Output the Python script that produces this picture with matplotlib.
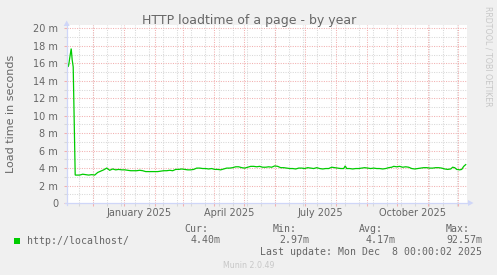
import matplotlib
matplotlib.use('Agg')
import matplotlib.pyplot as plt
from matplotlib.patches import Rectangle, Polygon
from matplotlib.lines import Line2D
import datetime as dt

W, H = 497, 275

# ---------------- data ----------------
start = dt.datetime(2024, 11, 4, 10)   # left edge of the graph
span_days = 400                         # Munin "by year" graph = 400 days

# day offsets from the left edge and load time (milliseconds)
days = [0, 1, 2, 3, 4.5, 5.5, 6.5, 8.5,
        10, 13, 16, 19, 22, 25, 28, 31, 34, 37, 40, 43, 46, 49, 52, 55, 58,
        61, 64, 67, 70, 73, 76, 79, 82, 85, 88, 91, 94, 97, 100, 103, 106,
        109, 112, 115, 118, 121, 124, 127, 130, 133, 136, 139, 142, 145, 148,
        151, 154, 157, 160, 163, 166, 169, 172, 175, 178, 181, 184, 187, 190,
        193, 196, 199, 202, 205, 208, 211, 214, 217, 220, 223, 226, 229, 232,
        235, 238, 241, 244, 247, 250, 253, 256, 259, 262, 265, 268, 271, 274,
        277, 278.5, 280, 283, 286, 289, 292, 295, 298, 301, 304, 307, 310,
        313, 316, 319, 322, 325, 327, 330, 333, 336, 339, 342, 345, 348, 351,
        354, 357, 360, 363, 366, 369, 372, 375, 378, 381, 384, 386, 388, 390,
        393, 395, 397, 399]
load_ms = [17.5, 15.6, 15.8, 16.6, 17.7, 16.4, 15.6, 3.2,
           3.2, 3.2, 3.3, 3.25, 3.2, 3.25, 3.2, 3.5, 3.65, 3.8, 4.0, 3.75, 3.9,
           3.8, 3.85, 3.8, 3.8,
           3.75, 3.7, 3.7, 3.7, 3.75, 3.7, 3.6, 3.6, 3.6, 3.6, 3.6, 3.65, 3.7,
           3.7, 3.75, 3.7,
           3.85, 3.85, 3.9, 3.85, 3.8, 3.8, 3.85, 4.0, 4.0, 3.95, 3.95, 3.9,
           3.95, 3.85,
           3.85, 3.8, 3.9, 4.0, 4.0, 4.05, 4.15, 4.15, 4.05, 4.0, 4.1, 4.2, 4.2,
           4.15,
           4.2, 4.1, 4.1, 4.15, 4.1, 4.25, 4.2, 4.05, 4.05, 4.0, 3.95, 3.95,
           3.9, 4.0,
           4.0, 3.95, 4.05, 4.0, 3.95, 4.05, 3.95, 3.9, 3.95, 3.95, 4.1, 4.05,
           4.0, 3.95,
           3.95, 4.25, 3.95, 3.95, 3.9, 3.95, 3.95, 4.0, 4.05, 4.0, 3.95, 4.0,
           3.95,
           3.95, 3.9, 3.95, 4.05, 4.1, 4.2, 4.15, 4.2, 4.1, 4.15, 4.1, 3.95,
           3.9, 3.95,
           4.0, 4.05, 4.05, 4.0, 4.0, 4.05, 4.05, 4.0, 3.9, 3.85, 3.9, 4.1,
           4.05, 3.85,
           3.8, 3.85, 4.2, 4.4]

month_starts = [dt.datetime(2024, 12, 1), dt.datetime(2025, 1, 1),
                dt.datetime(2025, 2, 1), dt.datetime(2025, 3, 1),
                dt.datetime(2025, 4, 1), dt.datetime(2025, 5, 1),
                dt.datetime(2025, 6, 1), dt.datetime(2025, 7, 1),
                dt.datetime(2025, 8, 1), dt.datetime(2025, 9, 1),
                dt.datetime(2025, 10, 1), dt.datetime(2025, 11, 1),
                dt.datetime(2025, 12, 1)]
minor_anchor = dt.datetime(2024, 11, 17)
minor_step_days = 14
label_dates = [dt.datetime(2025, 1, 16), dt.datetime(2025, 4, 16),
               dt.datetime(2025, 7, 16), dt.datetime(2025, 10, 16)]
label_texts = ['January 2025', 'April 2025', 'July 2025', 'October 2025']
y_major = [0, 2, 4, 6, 8, 10, 12, 14, 16, 18, 20]
y_labels = ['0', '2 m', '4 m', '6 m', '8 m', '10 m', '12 m', '14 m',
            '16 m', '18 m', '20 m']
y_minor = [1, 3, 5, 7, 9, 11, 13, 15, 17, 19]

title = 'HTTP loadtime of a page - by year'
ylabel = 'Load time in seconds'
legend_label = 'http://localhost/'
stats_head = ['Cur:', 'Min:', 'Avg:', 'Max:']
stats_vals = ['4.40m', '2.97m', '4.17m', '92.57m']
last_update = 'Last update: Mon Dec  8 00:00:02 2025'
version_txt = 'Munin 2.0.49'
rrd_txt = 'RRDTOOL / TOBI OETIKER'

# ---------------- style ----------------
BACK = '#F0F0F0'
FONT = '#666666'
AXIS = '#CFD6F8'
GREEN = '#00CC00'
MGRID = '#F2B0B0'
GRID = '#D8D8D8'


def dday(t):
    return (t - start).total_seconds() / 86400.0


def fx(x):
    return x / W


def fy(y):
    return 1 - y / H


fig = plt.figure(figsize=(W / 100, H / 100), dpi=100, facecolor=BACK)

ax_left, ax_right, ax_top, ax_bot = 66.7, 466.7, 25, 203
ax = fig.add_axes([fx(ax_left), fy(ax_bot), (ax_right - ax_left) / W,
                   (ax_bot - ax_top) / H])
ax.set_facecolor('white')
ax.set_xlim(0, span_days)
ax.set_ylim(0, 20 * (ax_bot - ax_top) / (ax_bot - 28.5))
for s in ax.spines.values():
    s.set_visible(False)

dot = (0, (1, 1.3))
minor_days = []
t = minor_anchor
while dday(t) < span_days:
    minor_days.append(dday(t))
    t += dt.timedelta(days=minor_step_days)
major_days = [dday(m) for m in month_starts]

for v in y_minor:
    ax.axhline(v, color=GRID, lw=0.75, ls=dot, zorder=1)
for v in minor_days:
    ax.axvline(v, color=GRID, lw=0.75, ls=dot, zorder=1)
for v in y_major[1:]:
    ax.axhline(v, color=MGRID, lw=0.75, ls=dot, zorder=2)
for v in major_days:
    ax.axvline(v, color=MGRID, lw=0.75, ls=dot, zorder=2)

ax.set_xticks(major_days)
ax.set_xticklabels([])
ax.set_xticks(minor_days, minor=True)
ax.tick_params(axis='x', which='major', length=2.2, width=0.75, color=MGRID,
               direction='out')
ax.tick_params(axis='x', which='minor', length=2.2, width=0.75, color=GRID,
               direction='out')
ax.set_yticks(y_major)
ax.set_yticklabels(y_labels)
ax.set_yticks(y_minor, minor=True)
ax.tick_params(axis='y', which='major', length=2.2, width=0.75, color=MGRID,
               direction='out', pad=3.9, labelsize=7, labelcolor=FONT)
ax.tick_params(axis='y', which='minor', length=2.2, width=0.75, color=GRID,
               direction='out')

ax.plot(days, load_ms, color=GREEN, lw=0.9, zorder=5, solid_joinstyle='miter')

label_tr = matplotlib.transforms.blended_transform_factory(ax.transData,
                                                           fig.transFigure)
for d_, txt in zip(label_dates, label_texts):
    ax.text(dday(d_), fy(215.5), txt, transform=label_tr,
            ha='center', va='baseline', fontsize=7, color=FONT)

# axis lines with arrows
fig.add_artist(Line2D([fx(ax_left), fx(ax_left)], [fy(ax_bot + 2), fy(24)],
                      color=AXIS, lw=0.9, transform=fig.transFigure))
fig.add_artist(Line2D([fx(ax_left - 2), fx(469)], [fy(ax_bot), fy(ax_bot)],
                      color=AXIS, lw=0.9, transform=fig.transFigure))
fig.add_artist(Polygon([[fx(ax_left - 3), fy(26)], [fx(ax_left + 3), fy(26)],
                        [fx(ax_left), fy(20.5)]], closed=True,
                       facecolor=AXIS, edgecolor='none',
                       transform=fig.transFigure))
fig.add_artist(Polygon([[fx(468), fy(ax_bot - 3)], [fx(468), fy(ax_bot + 3)],
                        [fx(473.5), fy(ax_bot)]], closed=True,
                       facecolor=AXIS, edgecolor='none',
                       transform=fig.transFigure))

# texts
fig.text(fx(248.9), fy(24), title, ha='center', va='baseline', fontsize=9,
         color=FONT)
fig.text(fx(11), fy(114), ylabel, ha='center', va='center', rotation=90,
         fontsize=8, color=FONT)
fig.text(fx(488), fy(56), rrd_txt, ha='center', va='center', rotation=270,
         fontsize=5.7, color='#C8C8C8')

mono = 'DejaVu Sans Mono'
fig.add_artist(Rectangle((fx(14), fy(244)), 6 / W, 6 / H, facecolor=GREEN,
                         edgecolor='none', transform=fig.transFigure))
fig.text(fx(26.7), fy(243.5), legend_label, ha='left', va='baseline',
         fontsize=7.15, family=mono, color=FONT)
head_right = [208.3, 296.7, 383.3, 470]
val_right = [220.7, 309.3, 395.7, 482.7]
for h_, hx, v_, vx in zip(stats_head, head_right, stats_vals, val_right):
    fig.text(fx(hx), fy(231.5), h_, ha='right', va='baseline', fontsize=7.15,
             family=mono, color=FONT)
    fig.text(fx(vx), fy(243.3), v_, ha='right', va='baseline', fontsize=7.15,
             family=mono, color=FONT)
fig.text(fx(482.3), fy(255), last_update, ha='right', va='baseline',
         fontsize=7.15, family=mono, color=FONT)
fig.text(fx(248.5), fy(267.7), version_txt, ha='center', va='baseline',
         fontsize=5.7, color='#C8C8C8')

fig.savefig('out.png', dpi=100, facecolor=BACK)
